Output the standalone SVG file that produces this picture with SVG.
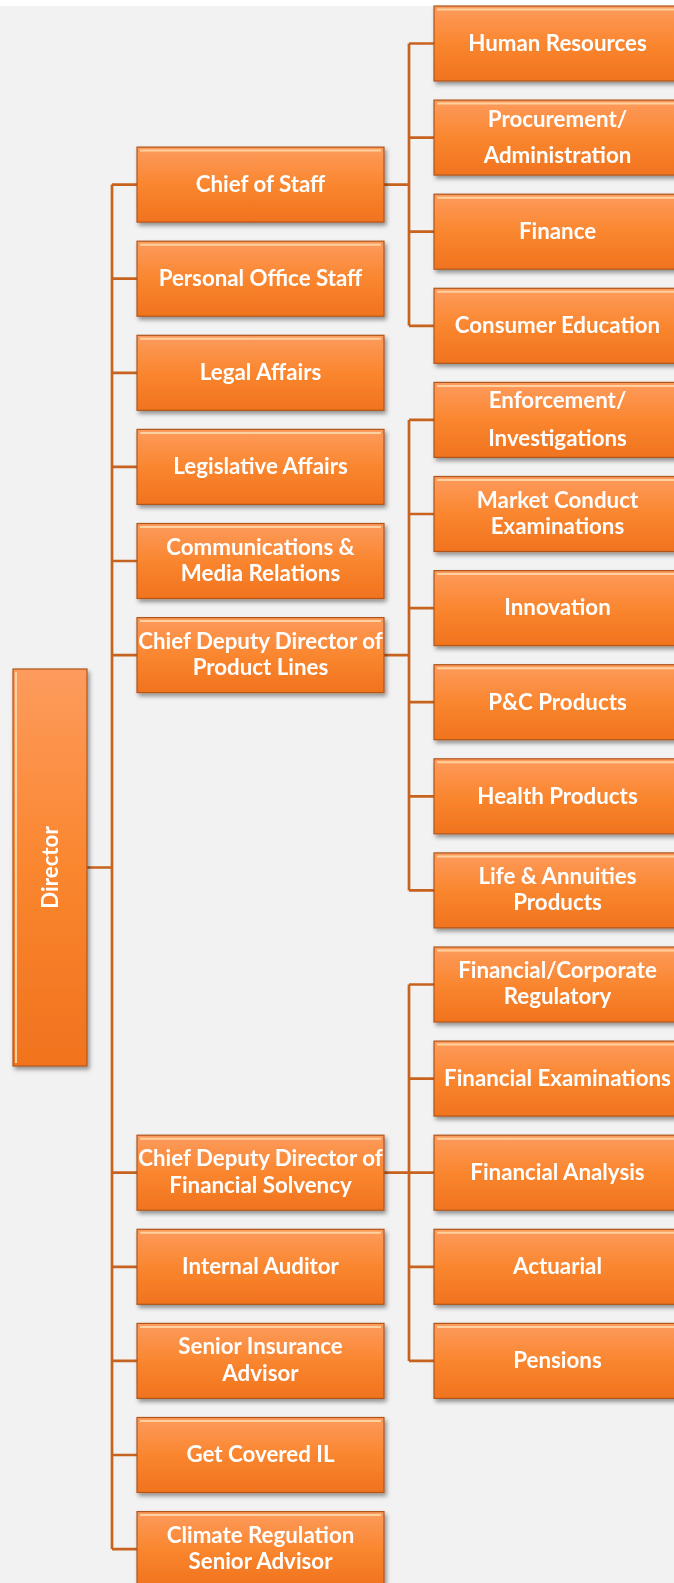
<svg xmlns="http://www.w3.org/2000/svg" xmlns:xlink="http://www.w3.org/1999/xlink" width="674" height="1583" viewBox="0 0 674 1583">
<defs>
<style>
.t{font-family:"Lato","Open Sans","DejaVu Sans",sans-serif;font-weight:bold;font-size:22.3px;fill:#ffffff;text-anchor:middle}
.c{stroke:#c8631f;stroke-width:2.7;fill:none}
.box{fill:url(#og);stroke:#b0551b;stroke-width:1.2}
.hl{stroke:#ffd9a8;stroke-width:2;opacity:0.9}
</style>
<linearGradient id="og" x1="0" y1="0" x2="0" y2="1">
<stop offset="0" stop-color="#fd9b5d"/>
<stop offset="0.5" stop-color="#fa862f"/>
<stop offset="1" stop-color="#f1731e"/>
</linearGradient>
<filter id="sh" x="-10%" y="-20%" width="125%" height="150%">
<feDropShadow dx="2" dy="3" stdDeviation="2.2" flood-color="#000" flood-opacity="0.4"/>
</filter>
<g id="bx">
<rect class="box" x="0" y="0" width="247" height="75"/>
<line class="hl" x1="3" y1="3.5" x2="244" y2="3.5"/>
</g>
</defs>
<rect x="0" y="0" width="674" height="1583" fill="#ffffff"/>
<rect x="0" y="6" width="674" height="1577" fill="#f2f2f2"/>

<g id="connectors">
<path class="c" d="M87 867.5H112M112 184.6V1549.1"/>
<path class="c" d="M112 184.6H137M112 278.7H137M112 372.8H137M112 466.9H137M112 561H137M112 655.1H137M112 1172.7H137M112 1266.8H137M112 1360.9H137M112 1455H137M112 1549.1H137"/>
<path class="c" d="M384 184.6H409M409 43.5V325.8M409 43.5H434M409 137.6H434M409 231.7H434M409 325.8H434"/>
<path class="c" d="M384 655.1H409M409 419.9V890.4M409 419.9H434M409 514H434M409 608.1H434M409 702.2H434M409 796.3H434M409 890.4H434"/>
<path class="c" d="M384 1172.7H409M409 984.5V1360.9M409 984.5H434M409 1078.6H434M409 1172.7H434M409 1266.8H434M409 1360.9H434"/>
</g>

<g id="director" filter="url(#sh)">
<rect class="box" x="13" y="669" width="74" height="397"/>
<line class="hl" x1="16" y1="672" x2="16" y2="1063"/>
<text class="t" transform="translate(57.5,867.5) rotate(-90)">Director</text>
</g>

<g id="chief-of-staff" filter="url(#sh)"><use xlink:href="#bx" x="137" y="147.1"/><text class="t" x="260.5" y="191.9">Chief of Staff</text></g>
<g id="personal-office-staff" filter="url(#sh)"><use xlink:href="#bx" x="137" y="241.2"/><text class="t" x="260.5" y="286">Personal Office Staff</text></g>
<g id="legal-affairs" filter="url(#sh)"><use xlink:href="#bx" x="137" y="335.3"/><text class="t" x="260.5" y="380.1">Legal Affairs</text></g>
<g id="legislative-affairs" filter="url(#sh)"><use xlink:href="#bx" x="137" y="429.4"/><text class="t" x="260.5" y="474.2">Legislative Affairs</text></g>
<g id="communications" filter="url(#sh)"><use xlink:href="#bx" x="137" y="523.5"/><text class="t" x="260.5" y="554.5">Communications &amp;</text><text class="t" x="260.5" y="580.8">Media Relations</text></g>
<g id="cdd-product-lines" filter="url(#sh)"><use xlink:href="#bx" x="137" y="617.6"/><text class="t" x="260.5" y="648.6">Chief Deputy Director of</text><text class="t" x="260.5" y="674.9">Product Lines</text></g>
<g id="cdd-financial-solvency" filter="url(#sh)"><use xlink:href="#bx" x="137" y="1135.2"/><text class="t" x="260.5" y="1166.2">Chief Deputy Director of</text><text class="t" x="260.5" y="1192.5">Financial Solvency</text></g>
<g id="internal-auditor" filter="url(#sh)"><use xlink:href="#bx" x="137" y="1229.3"/><text class="t" x="260.5" y="1274.1">Internal Auditor</text></g>
<g id="senior-insurance-advisor" filter="url(#sh)"><use xlink:href="#bx" x="137" y="1323.4"/><text class="t" x="260.5" y="1354.4">Senior Insurance</text><text class="t" x="260.5" y="1380.7">Advisor</text></g>
<g id="get-covered-il" filter="url(#sh)"><use xlink:href="#bx" x="137" y="1417.5"/><text class="t" x="260.5" y="1462.3">Get Covered IL</text></g>
<g id="climate-regulation" filter="url(#sh)"><use xlink:href="#bx" x="137" y="1511.6"/><text class="t" x="260.5" y="1542.6">Climate Regulation</text><text class="t" x="260.5" y="1568.9">Senior Advisor</text></g>

<g id="human-resources" filter="url(#sh)"><use xlink:href="#bx" x="434" y="6"/><text class="t" x="557.5" y="50.8">Human Resources</text></g>
<g id="procurement" filter="url(#sh)"><use xlink:href="#bx" x="434" y="100.1"/><text class="t" x="557.5" y="126.6">Procurement/</text><text class="t" x="557.5" y="162.8">Administration</text></g>
<g id="finance" filter="url(#sh)"><use xlink:href="#bx" x="434" y="194.2"/><text class="t" x="557.5" y="239">Finance</text></g>
<g id="consumer-education" filter="url(#sh)"><use xlink:href="#bx" x="434" y="288.3"/><text class="t" x="557.5" y="333.1">Consumer Education</text></g>
<g id="enforcement" filter="url(#sh)"><use xlink:href="#bx" x="434" y="382.4"/><text class="t" x="557.5" y="408.4">Enforcement/</text><text class="t" x="557.5" y="445.6">Investigations</text></g>
<g id="market-conduct" filter="url(#sh)"><use xlink:href="#bx" x="434" y="476.5"/><text class="t" x="557.5" y="507.5">Market Conduct</text><text class="t" x="557.5" y="533.8">Examinations</text></g>
<g id="innovation" filter="url(#sh)"><use xlink:href="#bx" x="434" y="570.6"/><text class="t" x="557.5" y="615.4">Innovation</text></g>
<g id="pc-products" filter="url(#sh)"><use xlink:href="#bx" x="434" y="664.7"/><text class="t" x="557.5" y="709.5">P&amp;C Products</text></g>
<g id="health-products" filter="url(#sh)"><use xlink:href="#bx" x="434" y="758.8"/><text class="t" x="557.5" y="803.6">Health Products</text></g>
<g id="life-annuities" filter="url(#sh)"><use xlink:href="#bx" x="434" y="852.9"/><text class="t" x="557.5" y="883.9">Life &amp; Annuities</text><text class="t" x="557.5" y="910.2">Products</text></g>
<g id="financial-corporate" filter="url(#sh)"><use xlink:href="#bx" x="434" y="947"/><text class="t" x="557.5" y="978">Financial/Corporate</text><text class="t" x="557.5" y="1004.3">Regulatory</text></g>
<g id="financial-examinations" filter="url(#sh)"><use xlink:href="#bx" x="434" y="1041.1"/><text class="t" x="557.5" y="1085.9">Financial Examinations</text></g>
<g id="financial-analysis" filter="url(#sh)"><use xlink:href="#bx" x="434" y="1135.2"/><text class="t" x="557.5" y="1180">Financial Analysis</text></g>
<g id="actuarial" filter="url(#sh)"><use xlink:href="#bx" x="434" y="1229.3"/><text class="t" x="557.5" y="1274.1">Actuarial</text></g>
<g id="pensions" filter="url(#sh)"><use xlink:href="#bx" x="434" y="1323.4"/><text class="t" x="557.5" y="1368.2">Pensions</text></g>
</svg>
